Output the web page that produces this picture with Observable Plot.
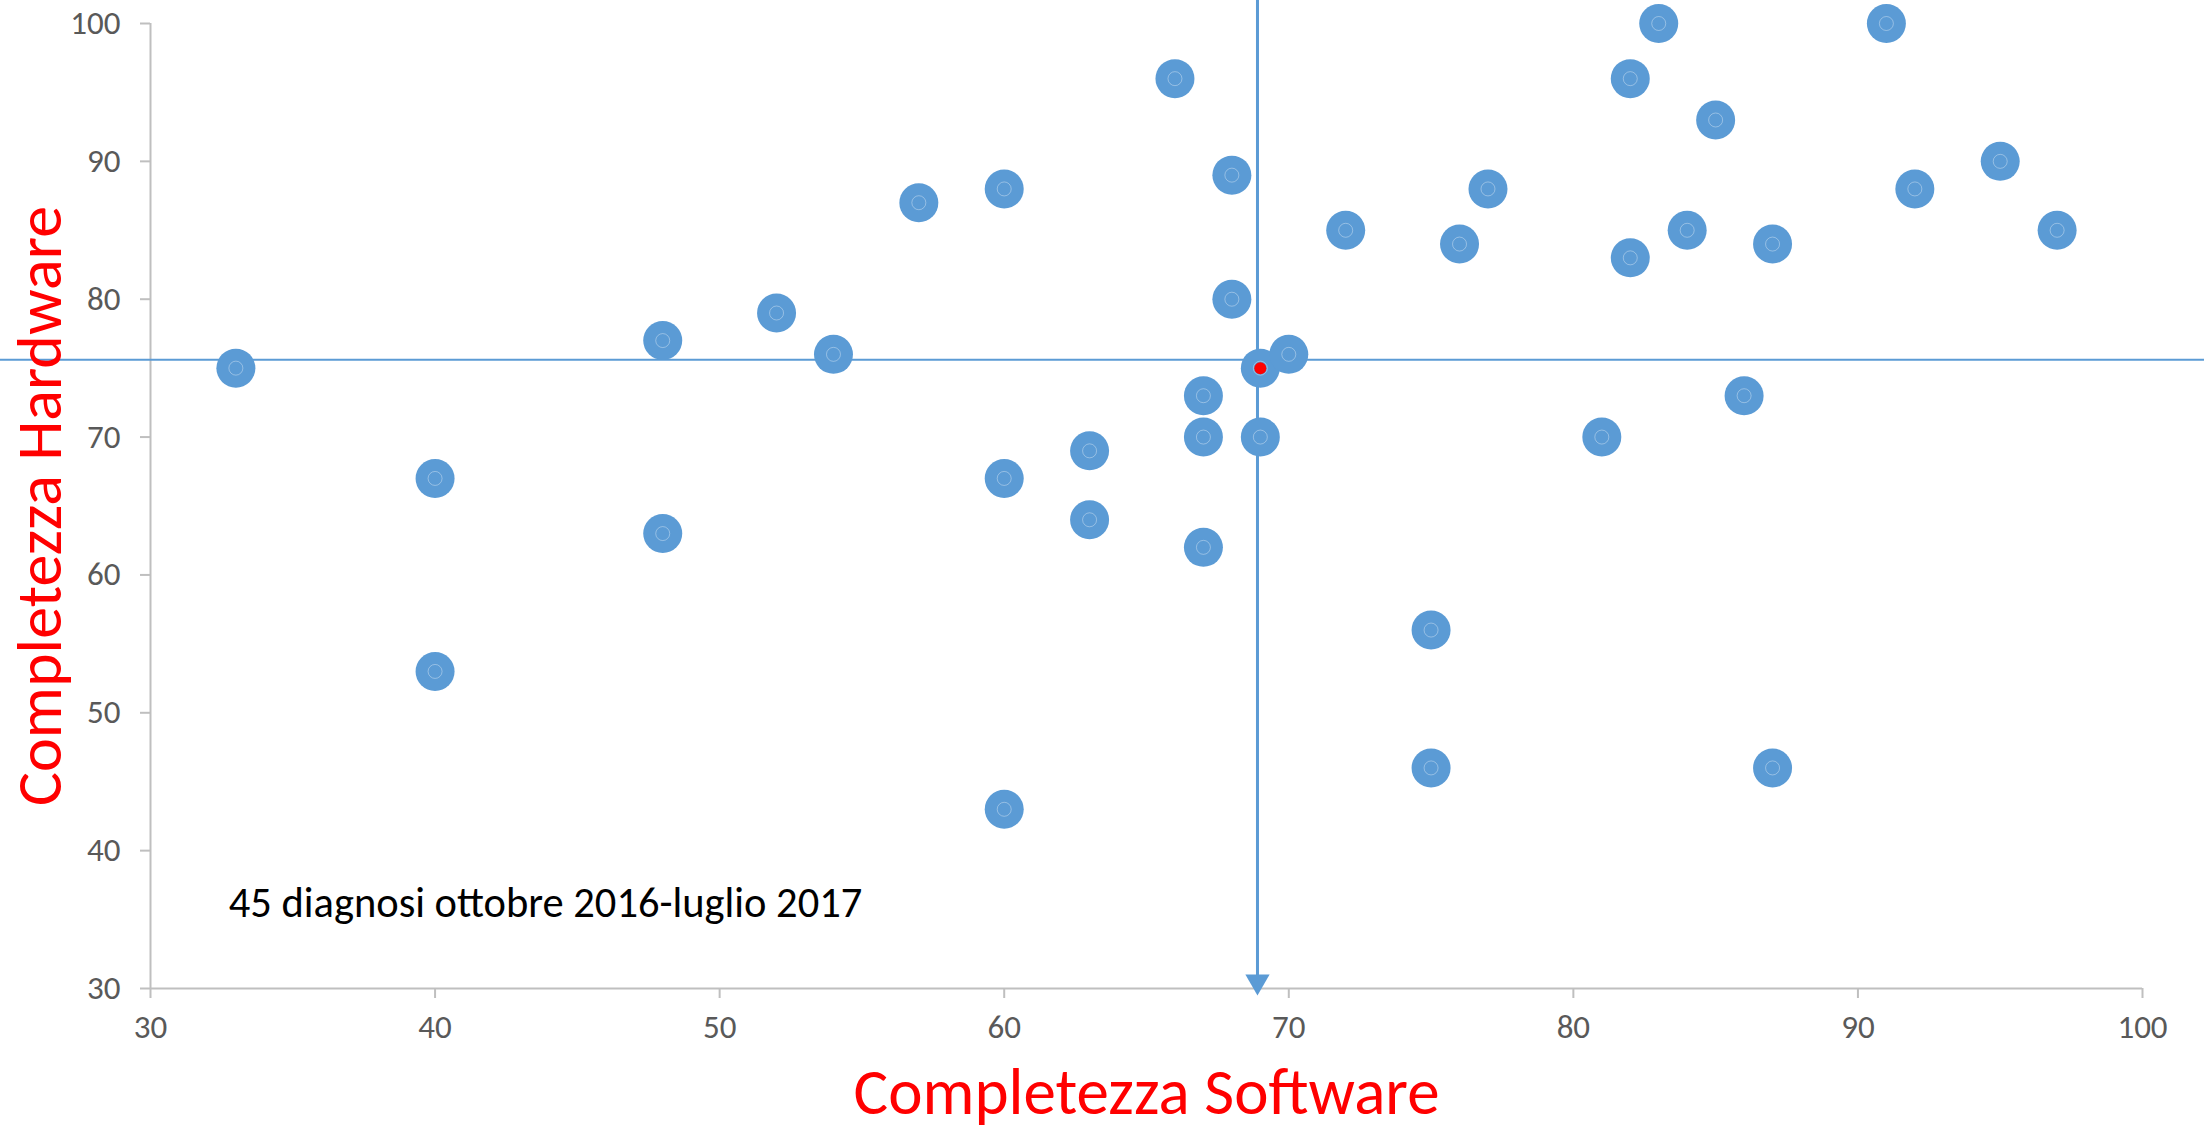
<!DOCTYPE html>
<html>
<head>
<meta charset="utf-8">
<script src="https://cdn.jsdelivr.net/npm/d3@7"></script>
<script src="https://cdn.jsdelivr.net/npm/@observablehq/plot@0.6"></script>
<style>
  html, body { margin: 0; padding: 0; background: #fff; }
  #chart svg { display: block; }
</style>
</head>
<body>
<div id="chart"></div>
<script>
// Data
const software = [33, 40, 40, 48, 48, 52, 54, 57, 60, 60, 60, 63, 63, 66, 67, 67, 67, 68, 68, 69,
                  69, 70, 72, 75, 75, 76, 77, 81, 82, 82, 83, 84, 85, 86, 87, 87, 91, 92, 95, 97];
const hardware = [75, 67, 53, 77, 63, 79, 76, 87, 88, 67, 43, 69, 64, 96, 73, 70, 62, 89, 80, 75,
                  70, 76, 85, 56, 46, 84, 88, 70, 96, 83, 100, 85, 93, 73, 84, 46, 100, 88, 90, 85];
const meanSoftware = 68.9;
const meanHardware = 75.6;
const highlightPoint = [{software: 69, hardware: 75}];
const xTicks = [30, 40, 50, 60, 70, 80, 90, 100];
const yTicks = [30, 40, 50, 60, 70, 80, 90, 100];
const xTitle = "Completezza Software";
const yTitle = "Completezza Hardware";
const note = "45 diagnosi ottobre 2016-luglio 2017";
const notePos = [{software: 32.75, hardware: 35.2}];

const points = software.map((s, i) => ({software: s, hardware: hardware[i]}));

const FONT = "Carlito, Calibri, Lato, 'Open Sans', sans-serif";
const blue = "#5B9BD5";
const axisGray = "#BFBFBF";

const chart = Plot.plot({
  width: 2204,
  height: 1130,
  marginLeft: 150,
  marginRight: 62,
  marginTop: 23,
  marginBottom: 142,
  style: {fontFamily: FONT, background: "#fff", overflow: "visible"},
  x: {domain: [30, 100], ticks: xTicks},
  y: {domain: [30, 100], ticks: yTicks},
  marks: [
    // axis lines
    Plot.ruleY([30], {stroke: axisGray, strokeWidth: 2}),
    Plot.ruleX([30], {stroke: axisGray, strokeWidth: 2}),
    Plot.axisX({ticks: xTicks, tickSize: 10, tickPadding: 16, stroke: axisGray, strokeWidth: 2,
                fill: "#595959", fontSize: 33, label: null}),
    Plot.axisY({ticks: yTicks, tickSize: 10, tickPadding: 20, stroke: axisGray, strokeWidth: 2,
                fill: "#595959", fontSize: 33, label: null}),
    // mean lines
    Plot.ruleY([meanHardware], {stroke: blue, strokeWidth: 2, insetLeft: -150, insetRight: -62}),
    Plot.ruleX([meanSoftware], {stroke: blue, strokeWidth: 3, insetTop: -23, insetBottom: 12}),
    Plot.dot([{software: meanSoftware, hardware: 30}], {
      x: "software", y: "hardware", symbol: "triangle", rotate: 180, r: 9, dy: -7,
      fill: blue, stroke: "none"
    }),
    // points
    Plot.dot(points, {x: "software", y: "hardware", r: 19.5, fill: blue, stroke: "none"}),
    Plot.dot(points, {x: "software", y: "hardware", r: 7, fill: "none", stroke: "#ffffff",
                      strokeOpacity: 0.35, strokeWidth: 1}),
    Plot.dot(highlightPoint, {x: "software", y: "hardware", r: 6, fill: "#FF0000", stroke: "none"}),
    // annotation
    Plot.text(notePos, {x: "software", y: "hardware", text: () => note, textAnchor: "start",
                        lineAnchor: "bottom", fontSize: 42.5, fill: "#000"}),
    // axis titles
    Plot.text([xTitle], {frameAnchor: "bottom", dy: 105, lineAnchor: "middle", textAnchor: "middle",
                         fontSize: 65, fill: "#FF0000"}),
    Plot.text([yTitle], {frameAnchor: "left", dx: -110, rotate: -90, lineAnchor: "middle", textAnchor: "middle",
                         fontSize: 64, fill: "#FF0000"})
  ]
});

document.getElementById("chart").appendChild(chart);
</script>
</body>
</html>
